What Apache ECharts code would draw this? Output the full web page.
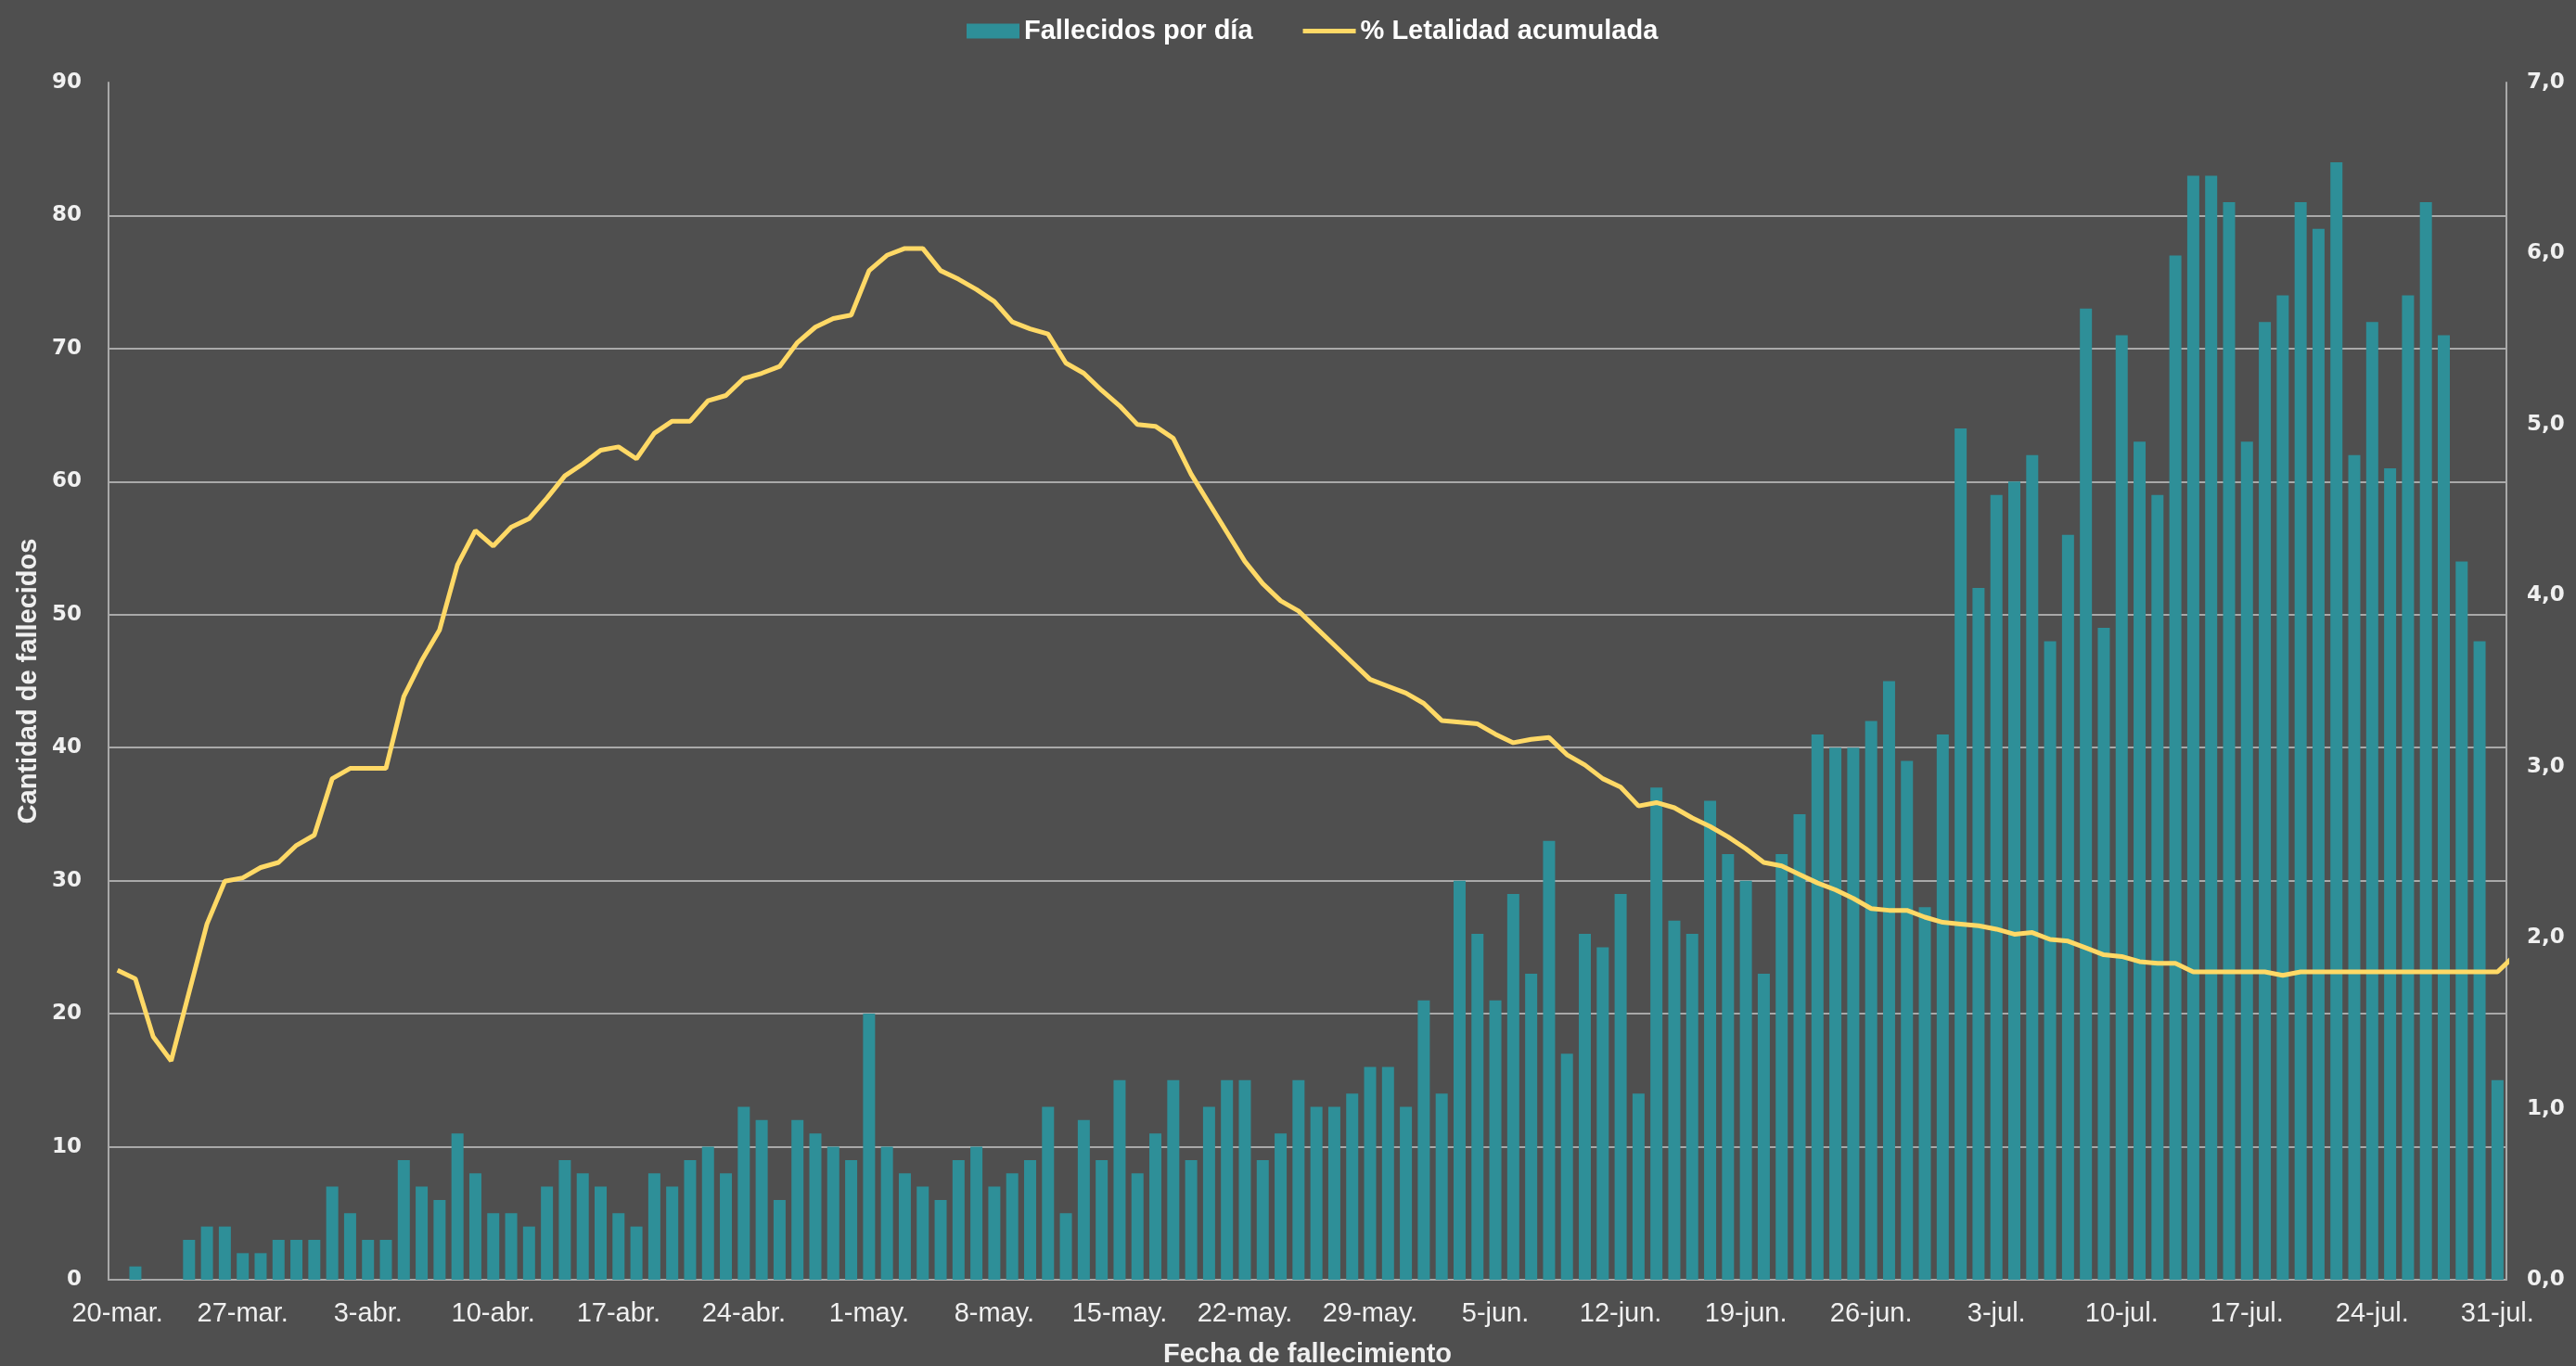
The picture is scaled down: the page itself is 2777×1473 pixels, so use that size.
<!DOCTYPE html>
<html>
<head>
<meta charset="utf-8">
<script src="https://cdn.jsdelivr.net/npm/echarts@6/dist/echarts.min.js"></script>
<style>
html,body{margin:0;padding:0;background:#4f4f4f;}
#chart{width:2777px;height:1473px;}
</style>
</head>
<body>
<div id="chart"></div>
<script>
// Month segments covered by the chart (start day, end day, label)
const monthSegments = [
  [20, 31, 'mar.'],
  [1, 30, 'abr.'],
  [1, 31, 'may.'],
  [1, 30, 'jun.'],
  [1, 31, 'jul.']
];
const categories = [];
monthSegments.forEach(function (s) {
  for (let d = s[0]; d <= s[1]; d++) categories.push(d + '-' + s[2]);
});

// Fallecidos por día (20-mar .. 31-jul)
const deaths = [
  0, 1, 0, 0, 3, 4, 4, 2, 2, 3, 3, 3,
  7, 5, 3, 3, 9, 7, 6, 11, 8, 5, 5, 4, 7, 9, 8, 7, 5, 4, 8, 7, 9, 10, 8, 13, 12, 6, 12, 11, 10, 9,
  20, 10, 8, 7, 6, 9, 10, 7, 8, 9, 13, 5, 12, 9, 15, 8, 11, 15, 9, 13, 15, 15, 9, 11, 15, 13, 13, 14, 16, 16, 13,
  21, 14, 30, 26, 21, 29, 23, 33, 17, 26, 25, 29, 14, 37, 27, 26, 36, 32, 30, 23, 32, 35, 41, 40, 40, 42, 45, 39, 28, 41,
  64, 52, 59, 60, 62, 48, 56, 73, 49, 71, 63, 59, 77, 83, 83, 81, 63, 72, 74, 81, 79, 84, 62, 72, 61, 74, 81, 71, 54, 48, 15
];

// % Letalidad acumulada
const lethality = [
  1.81, 1.76, 1.42, 1.28, 1.68, 2.08, 2.33, 2.35, 2.41, 2.44, 2.54, 2.60,
  2.93, 2.99, 2.99, 2.99, 3.41, 3.62, 3.80, 4.18, 4.38, 4.29, 4.40, 4.45, 4.57, 4.70, 4.77, 4.85, 4.87, 4.80, 4.95, 5.02, 5.02, 5.14, 5.17, 5.27, 5.30, 5.34, 5.48, 5.57, 5.62, 5.64,
  5.90, 5.99, 6.03, 6.03, 5.90, 5.85, 5.79, 5.72, 5.60, 5.56, 5.53, 5.36, 5.30, 5.20, 5.11, 5.00, 4.99, 4.92, 4.71, 4.54, 4.37, 4.20, 4.07, 3.97, 3.91, 3.81, 3.71, 3.61, 3.51, 3.47, 3.43,
  3.37, 3.27, 3.26, 3.25, 3.19, 3.14, 3.16, 3.17, 3.07, 3.01, 2.93, 2.88, 2.77, 2.79, 2.76, 2.70, 2.65, 2.59, 2.52, 2.44, 2.42, 2.37, 2.32, 2.28, 2.23, 2.17, 2.16, 2.16, 2.12, 2.09,
  2.08, 2.07, 2.05, 2.02, 2.03, 1.99, 1.98, 1.94, 1.90, 1.89, 1.86, 1.85, 1.85, 1.80, 1.80, 1.80, 1.80, 1.80, 1.78, 1.80, 1.80, 1.80, 1.80, 1.80, 1.80, 1.80, 1.80, 1.80, 1.80, 1.80, 1.80, 1.90
];

const seriesNames = ['Fallecidos por día', '% Letalidad acumulada'];
const axisTitles = ['Cantidad de fallecidos', 'Fecha de fallecimiento'];

const chart = echarts.init(document.getElementById('chart'), null, {renderer: 'canvas'});
const axisColor = '#a9a9a9';
const labelColor = '#f0f0f0';

chart.setOption({
  backgroundColor: '#4f4f4f',
  animation: false,
  legend: {
    left: 1037,
    top: 14,
    itemWidth: 57,
    itemHeight: 16,
    itemGap: 54,
    symbolKeepAspect: true,
    textStyle: {color: '#ffffff', fontFamily: 'Liberation Sans', fontWeight: 'bold', fontSize: 29},
    data: [
      {name: seriesNames[0], icon: 'rect'},
      {name: seriesNames[1], icon: 'path://M0,0L63,0L63,5.5L0,5.5Z', itemStyle: {color: '#ffd966'}}
    ]
  },
  grid: {left: 117, right: 75, top: 89, bottom: 93, containLabel: false, outerBoundsMode: 'none'},
  xAxis: {
    type: 'category',
    data: categories,
    boundaryGap: true,
    name: axisTitles[1],
    nameLocation: 'middle',
    nameGap: 66,
    nameTextStyle: {color: labelColor, fontFamily: 'Liberation Sans', fontWeight: 'bold', fontSize: 29},
    axisLine: {show: true, lineStyle: {color: axisColor, width: 2}},
    axisTick: {show: false},
    axisLabel: {interval: 6, color: labelColor, fontFamily: 'Liberation Sans', fontSize: 29, margin: 22},
    splitLine: {show: false}
  },
  yAxis: [
    {
      type: 'value',
      min: 0, max: 90, interval: 10,
      name: axisTitles[0],
      nameLocation: 'middle',
      nameGap: 69,
      nameTextStyle: {color: labelColor, fontFamily: 'Liberation Sans', fontWeight: 'bold', fontSize: 29},
      axisLine: {show: true, lineStyle: {color: axisColor, width: 2}},
      axisTick: {show: false},
      axisLabel: {color: labelColor, fontFamily: 'DejaVu Sans', fontWeight: 'bold', fontSize: 23, margin: 29},
      splitLine: {show: true, showMaxLine: false, lineStyle: {color: axisColor, width: 2}}
    },
    {
      type: 'value',
      min: 0, max: 7, interval: 1,
      position: 'right',
      axisLine: {show: true, lineStyle: {color: axisColor, width: 2}},
      axisTick: {show: false},
      axisLabel: {
        color: labelColor, fontFamily: 'DejaVu Sans', fontWeight: 'bold', fontSize: 23, margin: 22,
        formatter: function (v) { return v.toFixed(1).replace('.', ','); }
      },
      splitLine: {show: false}
    }
  ],
  series: [
    {
      name: seriesNames[0],
      type: 'bar',
      data: deaths,
      yAxisIndex: 0,
      barWidth: 13,
      itemStyle: {color: '#2e8f98'}
    },
    {
      name: seriesNames[1],
      type: 'line',
      data: lethality,
      yAxisIndex: 1,
      symbol: 'none',
      lineStyle: {color: '#ffd966', width: 5},
      itemStyle: {color: '#ffd966'}
    }
  ]
});
</script>
</body>
</html>
